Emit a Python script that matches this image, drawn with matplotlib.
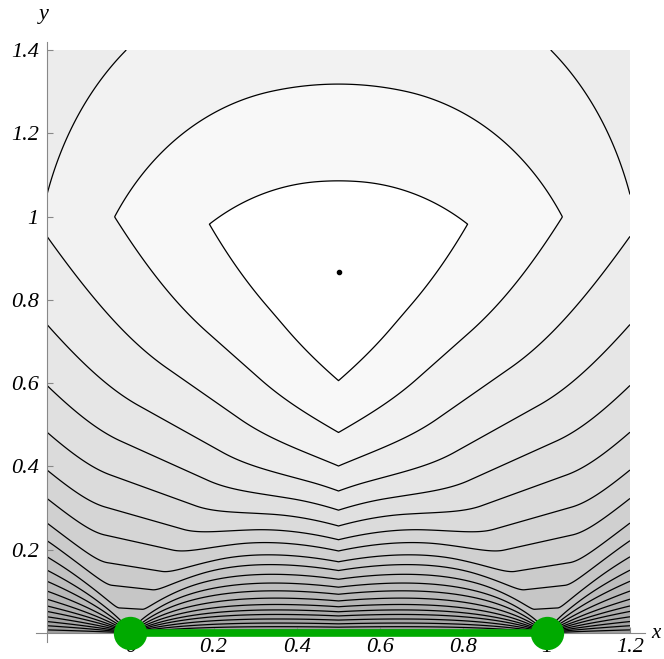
import numpy as np
import matplotlib
matplotlib.use("Agg")
import matplotlib.pyplot as plt

# fixed edge (green) and the equilateral point
edge_x = [0.0, 1.0]
edge_y = [0.0, 0.0]
apex = (0.5, np.sqrt(3) / 2)

# heights where the contour lines cross x = 0.5
cross_y = [0.006, 0.014, 0.022, 0.031, 0.041, 0.051, 0.063, 0.077, 0.093,
           0.110, 0.129, 0.150, 0.171, 0.197, 0.224, 0.257, 0.295, 0.341,
           0.401, 0.4815, 0.606]

xticks = [0, 0.2, 0.4, 0.6, 0.8, 1, 1.2]
xlabels = ["0", "0.2", "0.4", "0.6", "0.8", "1", "1.2"]
yticks = [0.2, 0.4, 0.6, 0.8, 1, 1.2, 1.4]
ylabels = ["0.2", "0.4", "0.6", "0.8", "1", "1.2", "1.4"]

# weight of the middle angle and the range (degrees) where it levels off
k_mid, t0, t1 = 0.3, 40.0, 63.0


def angle(ux, uy, vx, vy):
    return np.degrees(np.arctan2(np.abs(ux * vy - uy * vx), ux * vx + uy * vy))


def quality(x, y):
    ax_, ay_ = edge_x[0], edge_y[0]
    bx_, by_ = edge_x[1], edge_y[1]
    ta = angle(bx_ - ax_, by_ - ay_, x - ax_, y - ay_)
    tb = angle(ax_ - bx_, ay_ - by_, x - bx_, y - by_)
    tp = 180.0 - ta - tb
    s = np.sort(np.stack([ta, tb, tp]), axis=0)
    t = s[1]
    u = np.clip(t - t0, 0, t1 - t0)
    g = k_mid * (np.minimum(t, t0) + u - u ** 2 / (2 * (t1 - t0)))
    return s[0] + g


levels = list(quality(np.full(len(cross_y), 0.5), np.array(cross_y)))
top = float(quality(np.array(apex[0]), np.array(apex[1]))) + 1

xs = np.linspace(-0.2, 1.2, 841)
ys = np.linspace(0.0, 1.4, 841)
X, Y = np.meshgrid(xs, ys)
Z = quality(X, Y)

n = len(levels)
grays = []
for i in range(n + 1):
    j = n - i  # 0 = band around the apex
    v = 1 - 0.026 * j * (1 - j / 70)
    grays.append((v, v, v))

fig = plt.figure(figsize=(6.64, 6.59), dpi=100)
ax = fig.add_axes([47 / 664, 26 / 659, 583 / 664, 583 / 659])

ax.contourf(X, Y, Z, levels=[-1] + levels + [top], colors=grays, antialiased=True)
ax.contour(X, Y, Z, levels=levels, colors="black", linewidths=0.9)

ax.plot(edge_x, edge_y, color="#00aa00", lw=5.5, solid_capstyle="butt", clip_on=False, zorder=5)
ax.plot(edge_x, edge_y, "o", color="#00aa00", ms=24, mew=0, clip_on=False, zorder=6)
ax.plot(*apex, "o", color="black", ms=3, zorder=6)

ax.set_xlim(-0.2, 1.2)
ax.set_ylim(0, 1.4)
ax.set_aspect("equal")
for s in ax.spines.values():
    s.set_visible(False)
# axes like Mathematica: crossing lines with a small overshoot
ax.plot([-0.227, 1.235], [0, 0], color="#888888", lw=0.8, clip_on=False, zorder=4)
ax.plot([-0.2, -0.2], [-0.022, 1.42], color="#888888", lw=0.8, clip_on=False, zorder=4)
ax.set_xticks(xticks)
ax.set_xticklabels(xlabels)
ax.set_yticks(yticks)
ax.set_yticklabels(ylabels)
ax.tick_params(axis="x", direction="in", length=4, color="#888888", labelsize=16, pad=3.5)
ax.tick_params(axis="y", direction="in", length=4, color="#888888", labelsize=16, pad=6)
for lab in ax.get_xticklabels() + ax.get_yticklabels():
    lab.set_fontfamily("Liberation Serif")
    lab.set_fontstyle("italic")
ax.text(1.25, 0.0, "x", fontsize=15, family="Liberation Serif", style="italic", va="center")
ax.text(-0.207, 1.485, "y", fontsize=16, family="Liberation Serif", style="italic", ha="center", va="center")

fig.savefig("out.png")
